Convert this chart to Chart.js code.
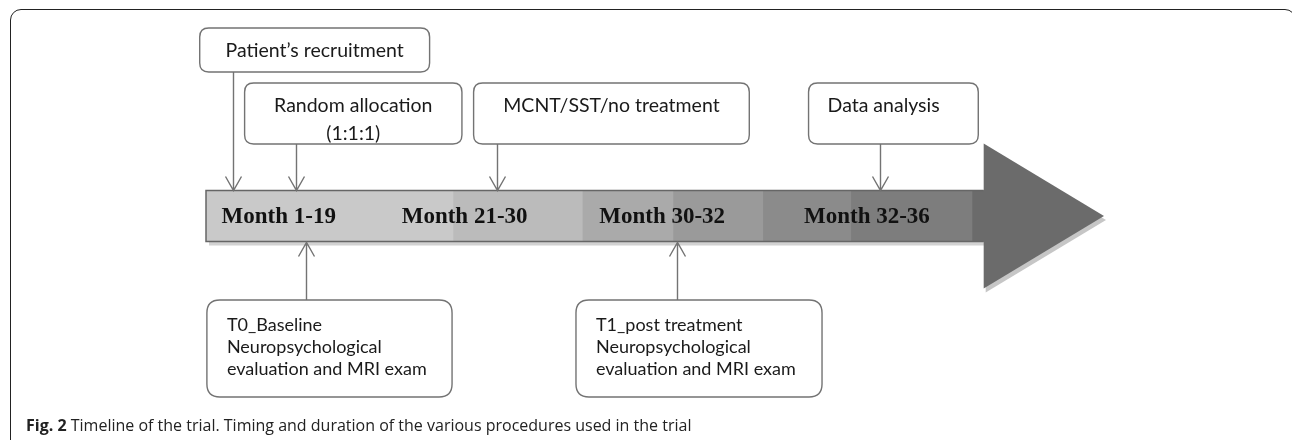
<!DOCTYPE html>
<html>
<head>
<meta charset="utf-8">
<title>Fig. 2 Timeline of the trial</title>
<script src="https://cdn.jsdelivr.net/npm/chart.js@4.4.0/dist/chart.umd.min.js"></script>
<style>
  html, body { margin: 0; padding: 0; background: #fff; overflow: hidden; }
  #wrap { position: relative; width: 1292px; height: 440px; }
  #frame { position: absolute; left: 10px; top: 9px; width: 1286px; height: 480px;
           border: 1.5px solid #222; border-radius: 11px; box-sizing: border-box; }
  #timeline { position: absolute; left: 0; top: 0; }
  #caption { position: absolute; left: 26px; top: 414px; font: 16px 'Open Sans', sans-serif;
             color: #222; white-space: nowrap; }
  #caption b { font-weight: 700; }
</style>
</head>
<body>
<div id="wrap">
  <div id="frame"></div>
  <canvas id="timeline" width="1292" height="440"></canvas>
  <div id="caption"><b>Fig. 2</b> Timeline of the trial. Timing and duration of the various procedures used in the trial</div>
</div>
<script>
// timeline runs 0..100 from the left end of the band to the tip of the arrow
const phaseLabels = ['Month 1-19', 'Month 21-30', 'Month 30-32', 'Month 32-36'];
const phaseCenters = [8.1, 28.8, 50.8, 73.6];

const bandStops = [0, 27.5, 41.9, 52.0, 62.0, 71.8, 85.3, 86.6];
const bandShades = ['#c9c9c9', '#bbbbbb', '#aaaaaa', '#9a9a9a', '#8b8b8b', '#7d7d7d', '#6b6b6b'];
const arrowTip = 100;

const aboveLabels = [
  ['Patient\u2019s recruitment'],
  ['Random allocation', '(1:1:1)'],
  ['MCNT/SST/no treatment'],
  ['Data analysis']
];
const aboveAt = [3.0, 10.0, 32.4, 75.0];
const aboveFrom = [-0.7, 4.3, 29.8, 67.1];
const aboveTo = [24.9, 28.5, 60.5, 86.0];

const belowLabels = [
  ['T0_Baseline', 'Neuropsychological', 'evaluation and MRI exam'],
  ['T1_post treatment', 'Neuropsychological', 'evaluation and MRI exam']
];
const belowAt = [11.1, 52.5];
const belowFrom = [0.1, 41.2];
const belowTo = [27.4, 68.6];

// vertical layout: px offsets from the band centre line
const aboveRows = [[-188, -144], [-133, -72], [-133, -72], [-133, -72]];
const aboveAlign = ['center', 'center', 'center', 'left'];
const belowRow = [84, 181];
const headHalf = 72.5;

const aboveFont = '19.5px Lato, sans-serif';
const belowFont = '18px Lato, sans-serif';
const lineColor = '#737373';

function roundRect(ctx, x, y, w, h, r) {
  ctx.beginPath();
  ctx.moveTo(x + r, y);
  ctx.lineTo(x + w - r, y);
  ctx.quadraticCurveTo(x + w, y, x + w, y + r);
  ctx.lineTo(x + w, y + h - r);
  ctx.quadraticCurveTo(x + w, y + h, x + w - r, y + h);
  ctx.lineTo(x + r, y + h);
  ctx.quadraticCurveTo(x, y + h, x, y + h - r);
  ctx.lineTo(x, y + r);
  ctx.quadraticCurveTo(x, y, x + r, y);
  ctx.closePath();
}

function arrow(ctx, x, y1, y2) {
  // line from y1 to y2, open chevron at y2
  const dir = y2 > y1 ? 1 : -1;
  ctx.beginPath();
  ctx.moveTo(x, y1);
  ctx.lineTo(x, y2);
  ctx.moveTo(x - 8, y2 - dir * 14);
  ctx.lineTo(x, y2);
  ctx.lineTo(x + 8, y2 - dir * 14);
  ctx.stroke();
}

function bandBox(chart) {
  const bar = chart.getDatasetMeta(0).data[0];
  const p = bar.getProps(['y', 'height'], true);
  return { cy: p.y, top: p.y - p.height / 2, bottom: p.y + p.height / 2 };
}

const timelinePlugin = {
  id: 'timeline',
  beforeDatasetsDraw(chart) {
    const { ctx } = chart;
    const x = chart.scales.x;
    const b = bandBox(chart);
    const x0 = x.getPixelForValue(bandStops[0]);
    const xh = x.getPixelForValue(bandStops[bandStops.length - 1]);
    const xt = x.getPixelForValue(arrowTip);
    ctx.save();
    // soft shadow under band and head
    ctx.fillStyle = '#d2d2d2';
    ctx.fillRect(x0 + 3, b.bottom, xh - x0, 4);
    ctx.fillStyle = '#c6c6c6';
    ctx.beginPath();
    ctx.moveTo(xh + 2, b.cy - headHalf + 4);
    ctx.lineTo(xt + 2, b.cy + 4);
    ctx.lineTo(xh + 2, b.cy + headHalf + 4);
    ctx.closePath();
    ctx.fill();
    // arrow head
    ctx.fillStyle = bandShades[bandShades.length - 1];
    ctx.beginPath();
    ctx.moveTo(xh, b.cy - headHalf);
    ctx.lineTo(xt, b.cy);
    ctx.lineTo(xh, b.cy + headHalf);
    ctx.closePath();
    ctx.fill();
    ctx.restore();
  },
  afterDatasetsDraw(chart) {
    const { ctx } = chart;
    const x = chart.scales.x;
    const b = bandBox(chart);
    const x0 = x.getPixelForValue(bandStops[0]);
    const xh = x.getPixelForValue(bandStops[bandStops.length - 1]);
    ctx.save();

    // band outline
    ctx.strokeStyle = '#666';
    ctx.lineWidth = 1.5;
    ctx.beginPath();
    ctx.moveTo(xh, b.top);
    ctx.lineTo(x0, b.top);
    ctx.lineTo(x0, b.bottom);
    ctx.lineTo(xh, b.bottom);
    ctx.stroke();

    // phase labels
    ctx.fillStyle = '#111';
    ctx.font = 'bold 23px "Liberation Serif", serif';
    ctx.textAlign = 'center';
    ctx.textBaseline = 'middle';
    phaseLabels.forEach((t, i) => ctx.fillText(t, x.getPixelForValue(phaseCenters[i]), b.cy + 1));

    // connectors
    ctx.strokeStyle = lineColor;
    ctx.lineWidth = 1.4;
    aboveAt.forEach((v, i) => {
      arrow(ctx, Math.round(x.getPixelForValue(v)) + 0.5, b.cy + aboveRows[i][1], b.top);
    });
    belowAt.forEach(v => {
      arrow(ctx, Math.round(x.getPixelForValue(v)) + 0.5, b.cy + belowRow[0], b.bottom + 1);
    });

    // boxes above the band
    ctx.font = aboveFont;
    aboveLabels.forEach((lines, i) => {
      const l = x.getPixelForValue(aboveFrom[i]);
      const r = x.getPixelForValue(aboveTo[i]);
      const t = b.cy + aboveRows[i][0];
      const bt = b.cy + aboveRows[i][1];
      ctx.fillStyle = '#fff';
      ctx.strokeStyle = lineColor;
      roundRect(ctx, l, t, r - l, bt - t, 9);
      ctx.fill();
      ctx.stroke();
      ctx.fillStyle = '#1a1a1a';
      ctx.textBaseline = 'middle';
      ctx.textAlign = aboveAlign[i];
      const tx = aboveAlign[i] === 'left' ? l + 19 : (l + r) / 2;
      lines.forEach((s, k) => ctx.fillText(s, tx, t + 23 + k * 28));
    });

    // boxes below the band
    ctx.font = belowFont;
    belowLabels.forEach((lines, i) => {
      const l = x.getPixelForValue(belowFrom[i]);
      const r = x.getPixelForValue(belowTo[i]);
      const t = b.cy + belowRow[0];
      const bt = b.cy + belowRow[1];
      ctx.fillStyle = '#fff';
      ctx.strokeStyle = lineColor;
      roundRect(ctx, l, t, r - l, bt - t, 13);
      ctx.fill();
      ctx.stroke();
      ctx.fillStyle = '#1a1a1a';
      ctx.textBaseline = 'middle';
      ctx.textAlign = 'left';
      lines.forEach((s, k) => ctx.fillText(s, l + 20, t + 25 + k * 22));
    });
    ctx.restore();
  }
};

function build() {
  const datasets = bandShades.map((c, i) => ({
    label: 'segment ' + (i + 1),
    data: [[bandStops[i], bandStops[i + 1]]],
    backgroundColor: c,
    borderWidth: 0,
    barThickness: 51,
    grouped: false
  }));

  new Chart(document.getElementById('timeline'), {
    type: 'bar',
    data: { labels: ['timeline'], datasets },
    options: {
      indexAxis: 'y',
      responsive: false,
      animation: false,
      layout: { padding: { left: 206, right: 188, top: 0, bottom: 8 } },
      plugins: { legend: { display: false }, tooltip: { enabled: false } },
      scales: {
        x: { type: 'linear', min: 0, max: 100, display: false },
        y: { type: 'category', display: false }
      }
    },
    plugins: [timelinePlugin]
  });
}

Promise.all([
  document.fonts.load(aboveFont),
  document.fonts.load(belowFont),
  document.fonts.load('bold 23px "Liberation Serif"'),
  document.fonts.load('16px "Open Sans"')
]).then(build, build);
</script>
</body>
</html>
